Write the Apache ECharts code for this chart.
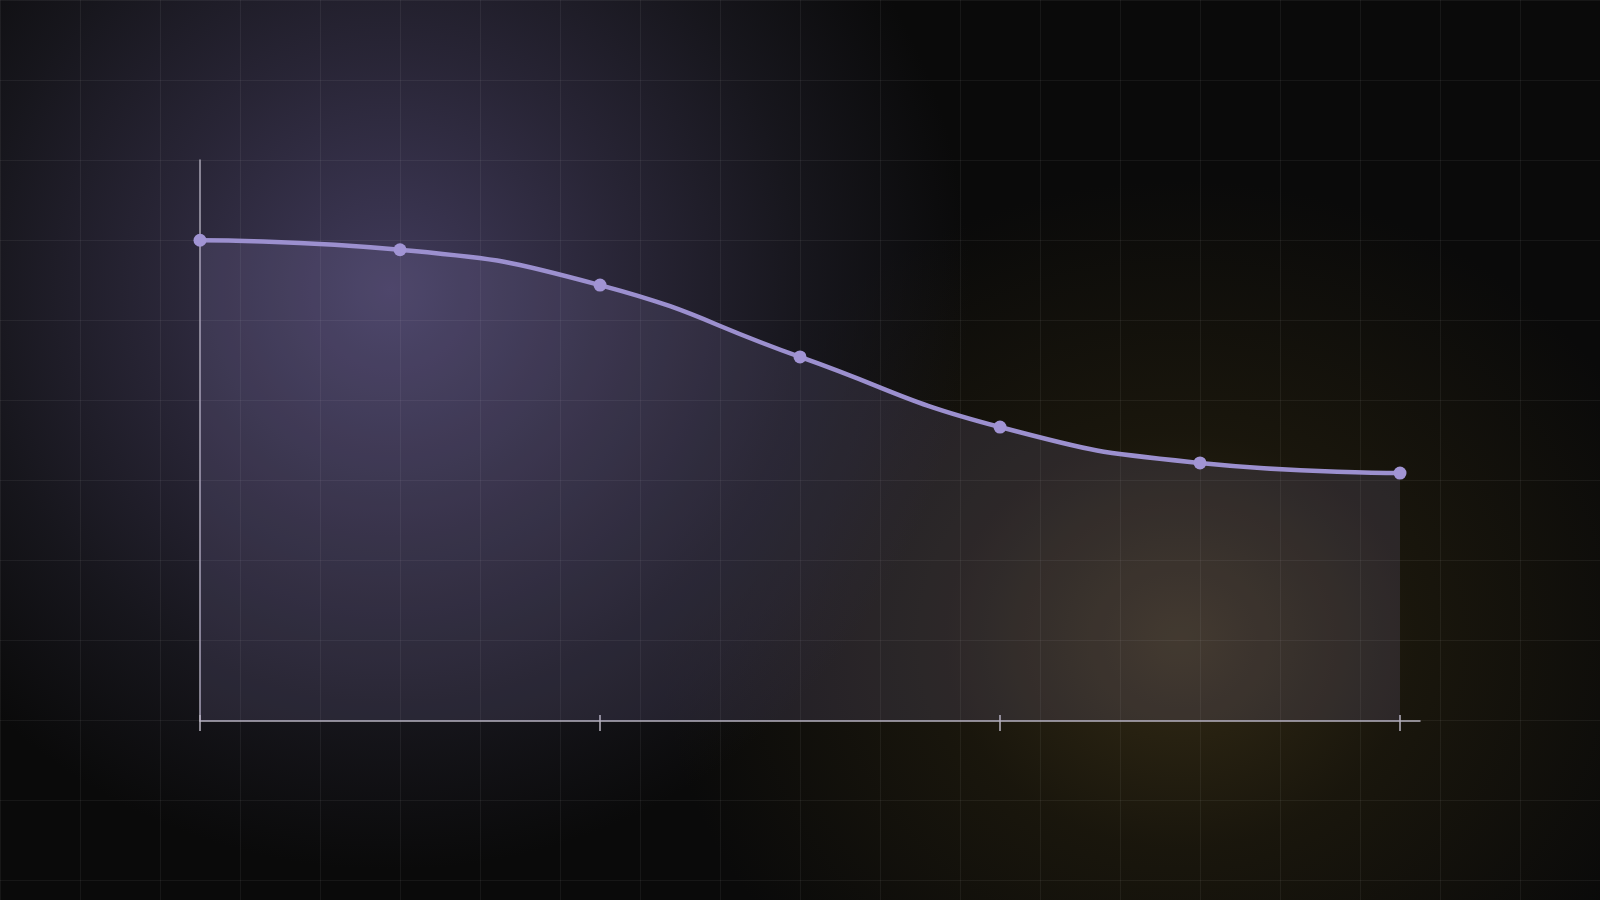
<!DOCTYPE html>
<html>
<head>
<meta charset="utf-8">
<script src="https://cdn.jsdelivr.net/npm/echarts@6/dist/echarts.min.js"></script>
<style>
  html, body { margin: 0; padding: 0; width: 1600px; height: 900px; overflow: hidden; }
  body {
    background-color: #0a0a0a;
    background-image:
      linear-gradient(to right, rgba(255,255,255,0.055) 1px, transparent 1px),
      linear-gradient(to bottom, rgba(255,255,255,0.055) 1px, transparent 1px),
      radial-gradient(circle 580px at 390px 290px, rgba(64,58,90,1) 0%, rgba(46,42,62,0.85) 40%, rgba(28,27,36,0.7) 72%, rgba(10,10,10,0) 100%),
      radial-gradient(ellipse 520px 460px at 1180px 640px, rgba(54,45,22,0.95) 0%, rgba(38,32,14,0.55) 45%, rgba(10,10,10,0) 100%);
    background-size: 80px 80px, 80px 80px, 100% 100%, 100% 100%;
  }
  #chart { position: absolute; left: 0; top: 0; width: 1600px; height: 900px; }
</style>
</head>
<body>
<div id="chart"></div>
<script>
const categories = ['0', '1', '2', '3', '4', '5', '6'];
const values = [85.7, 84.0, 77.7, 64.9, 52.4, 46.0, 44.2];
const yMin = 0;
const yMax = 100;

const lineColor = '#9c90cf';
const axisColor = '#b6b2be';

const chart = echarts.init(document.getElementById('chart'), null, { renderer: 'canvas' });
chart.setOption({
  backgroundColor: 'transparent',
  animation: false,
  grid: [
    { left: 200, right: 200, top: 160, bottom: 179 },
    { left: 200, right: 180, top: 160, bottom: 179 }
  ],
  xAxis: [
    {
      type: 'category', gridIndex: 0, data: categories, boundaryGap: false, position: 'bottom',
      axisLine: { show: false },
      axisTick: { show: true, interval: 1, length: 10, lineStyle: { color: axisColor, width: 1.5 } },
      axisLabel: { show: false }, splitLine: { show: false }
    },
    {
      type: 'category', gridIndex: 0, data: categories, boundaryGap: false, position: 'bottom',
      axisLine: { show: false },
      axisTick: { show: true, inside: true, interval: 1, length: 6, lineStyle: { color: axisColor, width: 1.5 } },
      axisLabel: { show: false }, splitLine: { show: false }
    },
    {
      type: 'value', gridIndex: 1, min: 0, max: 1, position: 'bottom',
      axisLine: { show: true, onZero: false, lineStyle: { color: axisColor, width: 1.5 } },
      axisTick: { show: false }, axisLabel: { show: false }, splitLine: { show: false }
    }
  ],
  yAxis: [
    {
      type: 'value', gridIndex: 0, min: yMin, max: yMax,
      axisLine: { show: true, onZero: false, lineStyle: { color: '#a9a5b5', width: 1.5 } },
      axisTick: { show: false }, axisLabel: { show: false }, splitLine: { show: false }
    },
    { type: 'value', gridIndex: 1, min: 0, max: 1, show: false }
  ],
  series: [
    {
      type: 'line', xAxisIndex: 0, yAxisIndex: 0,
      data: values,
      smooth: 0.5,
      symbol: 'circle', symbolSize: 13, showSymbol: true,
      lineStyle: { color: lineColor, width: 4.5 },
      itemStyle: { color: '#a194d4' },
      areaStyle: { color: 'rgba(160,148,212,0.2)' },
      z: 3
    }
  ]
});
</script>
</body>
</html>
